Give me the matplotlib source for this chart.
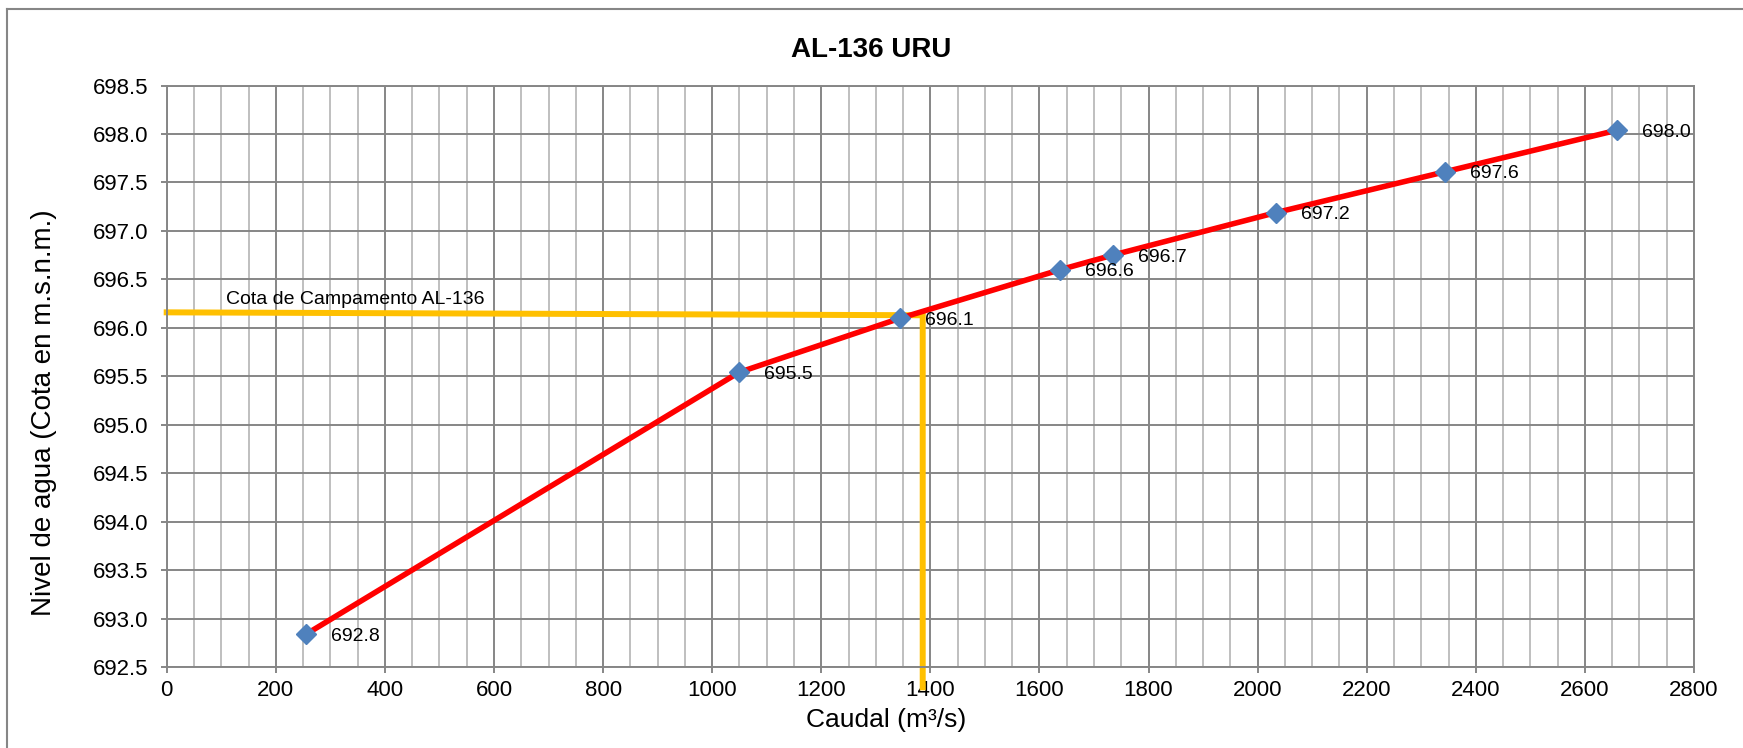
import matplotlib
matplotlib.use("Agg")
import matplotlib.pyplot as plt
from matplotlib.lines import Line2D
from matplotlib.ticker import MultipleLocator, FormatStrFormatter

plt.rcParams["font.family"] = ["Liberation Sans", "DejaVu Sans"]

# --- data ---
caudal = [256, 1049, 1345, 1638, 1734, 2034, 2343, 2659]
nivel = [692.84, 695.54, 696.10, 696.60, 696.75, 697.19, 697.61, 698.04]
etiquetas = ["692.8", "695.5", "696.1", "696.6", "696.7", "697.2", "697.6", "698.0"]

# campamento reference line (horizontal + vertical drop)
cota_x = [0, 1386, 1386]
cota_y = [696.16, 696.13, 692.29]
cota_texto = "Cota de Campamento AL-136"

W, H = 1743, 748
fig = plt.figure(figsize=(W / 100, H / 100), dpi=100)
ax = fig.add_axes([166.7 / W, 1 - 667 / H, (1694 - 166.7) / W, (667 - 85.6) / H])

grid_dark = "#868686"
grid_light = "#BFBFBF"

ax.set_xlim(0, 2800)
ax.set_ylim(692.5, 698.5)
ax.xaxis.set_major_locator(MultipleLocator(200))
ax.xaxis.set_minor_locator(MultipleLocator(50))
ax.yaxis.set_major_locator(MultipleLocator(0.5))
ax.yaxis.set_major_formatter(FormatStrFormatter("%.1f"))

ax.grid(which="minor", axis="x", color=grid_light, linewidth=1.4, zorder=0)
ax.grid(which="major", axis="x", color=grid_dark, linewidth=1.4, zorder=0)
ax.grid(which="major", axis="y", color=grid_dark, linewidth=1.4, zorder=0)
ax.set_axisbelow(True)

for s in ax.spines.values():
    s.set_color(grid_dark)
    s.set_linewidth(1.4)

ax.tick_params(which="major", length=4, width=1.4, color=grid_dark, labelsize=16)
ax.tick_params(axis="y", which="major", pad=9)
ax.tick_params(axis="x", which="major", pad=5)
ax.tick_params(which="minor", length=0)

# yellow campamento line
ax.plot(cota_x, cota_y, color="#FFC000", linewidth=4.3, clip_on=False, zorder=2,
        solid_joinstyle="miter")
ax.text(108, 696.21, cota_texto, fontsize=14, va="bottom", ha="left", zorder=3)

# rating curve
ax.plot(caudal, nivel, color="#FF0000", linewidth=4, zorder=3)
ax.plot(caudal, nivel, linestyle="none", marker="D", markersize=10,
        color="#4F81BD", zorder=4)

for x, y, t in zip(caudal, nivel, etiquetas):
    ax.annotate(t, (x, y), xytext=(18, -1.5), textcoords="offset points",
                fontsize=14, va="center", ha="left", zorder=5)

ax.set_xlabel("Caudal (m³/s)", fontsize=19, va="center")
ax.xaxis.set_label_coords(886 / W, 1 - 720 / H, transform=fig.transFigure)
ax.set_ylabel("Nivel de agua (Cota en m.s.n.m.)", fontsize=20, va="center")
ax.yaxis.set_label_coords(44.5 / W, 1 - 413 / H, transform=fig.transFigure)
fig.text(0.5, 1 - 50 / H, "AL-136 URU", fontsize=20,
         fontweight="bold", ha="center", va="center")

# chart frame (only top and left edges fall inside the picture)
fig.add_artist(Line2D([7 / W, 1], [1 - 9 / H, 1 - 9 / H], color=grid_dark, linewidth=1.5))
fig.add_artist(Line2D([7 / W, 7 / W], [0, 1 - 9 / H], color=grid_dark, linewidth=1.5))

fig.savefig("out.png", dpi=100)
